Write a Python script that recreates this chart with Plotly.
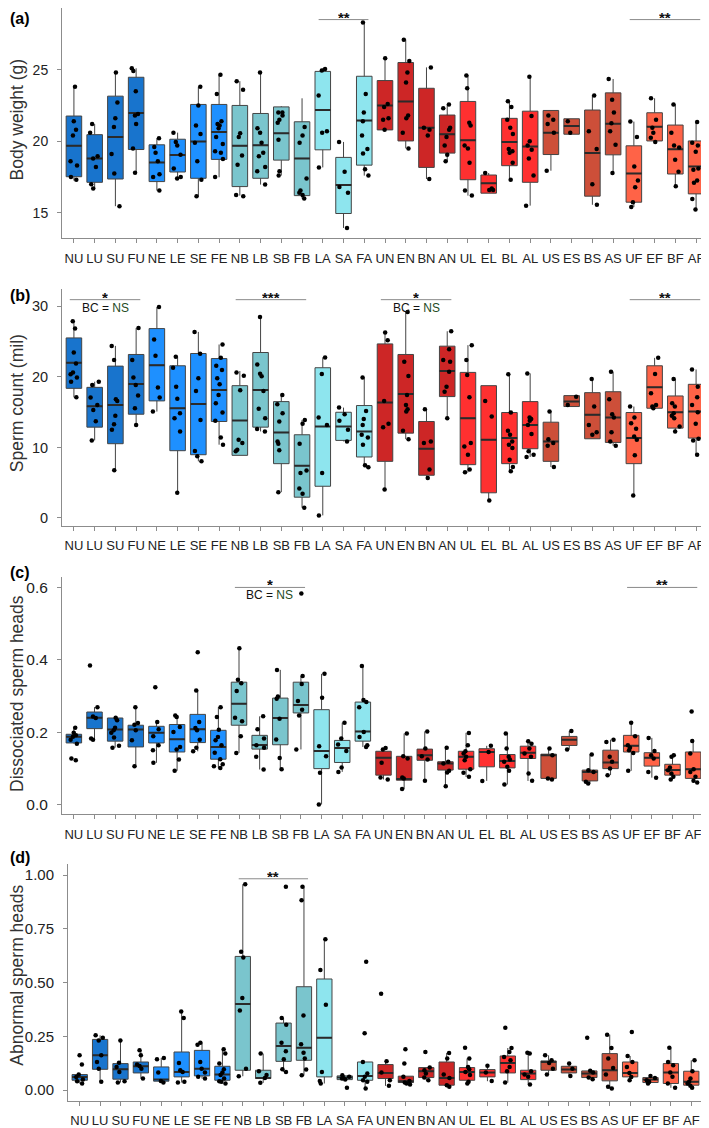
import plotly.graph_objects as go
from plotly.subplots import make_subplots

cats = ["NU", "LU", "SU", "FU", "NE", "LE", "SE", "FE", "NB", "LB", "SB", "FB",
        "LA", "SA", "FA", "UN", "EN", "BN", "AN", "UL", "EL", "BL", "AL",
        "US", "ES", "BS", "AS", "UF", "EF", "BF", "AF"]

# (a) body weight (g): whisker ends, quartiles, median
bw_hi = [23.8, 21.2, 24.8, 25.1, 20.2, 20.6, 23.8, 24.65, 24.2, 24.8, 22.45, 23.0, 25.1, 19.95, 28.3,
         25.8, 27.1, 25.16, 22.57, 24.63, 17.78, 22.8, 24.5, 22.15, 21.57, 23.2, 24.35, 21.37, 23.0, 22.57, 21.34]
bw_q3 = [21.76, 20.46, 23.15, 24.47, 19.75, 20.14, 22.57, 22.57, 22.5, 21.94, 22.4, 21.36, 24.88, 18.87, 24.54,
         24.24, 25.5, 23.7, 21.83, 22.78, 17.64, 21.6, 22.1, 22.15, 21.57, 22.18, 23.38, 19.68, 21.99, 21.13, 20.02]
bw_med = [19.68, 18.8, 20.3, 21.97, 18.52, 19.03, 19.98, 20.65, 19.68, 19.72, 20.55, 18.8, 22.18, 16.94, 21.44,
          22.5, 22.78, 20.95, 20.49, 20.07, 17.06, 19.95, 19.63, 20.6, 21.06, 19.17, 21.23, 17.75, 21.02, 19.44, 18.24]
bw_q1 = [17.52, 17.13, 17.36, 19.42, 17.18, 17.85, 17.41, 18.73, 16.83, 17.41, 18.68, 16.2, 19.4, 14.95, 18.33,
         20.79, 20.02, 18.17, 19.17, 17.31, 16.37, 18.29, 17.13, 19.07, 20.49, 16.16, 19.05, 15.74, 20.02, 17.71, 16.32]
bw_lo = [17.25, 16.67, 15.46, 17.82, 16.55, 17.43, 16.16, 17.48, 16.2, 16.97, 17.6, 16.0, 18.17, 13.94, 17.6,
         20.79, 19.5, 17.36, 18.59, 16.2, 16.37, 17.3, 15.5, 17.94, 20.49, 15.56, 17.78, 15.4, 19.95, 16.85, 15.23]
bw_pts = [
    [23.8, 21.4, 20.8, 20.4, 18.6, 18.3, 17.5, 17.3],
    [21.2, 20.6, 18.95, 18.8, 18.2, 17.0, 16.7],
    [24.8, 22.7, 21.6, 21.0, 19.1, 17.75, 15.45],
    [25.1, 24.9, 23.5, 21.9, 21.8, 21.2, 19.5, 17.8],
    [20.2, 19.6, 19.2, 18.6, 17.7, 17.5, 16.55],
    [20.6, 19.95, 19.7, 19.05, 18.1, 17.5, 17.4],
    [23.8, 22.5, 21.1, 20.5, 19.9, 18.6, 17.3, 16.15],
    [24.65, 23.3, 21.4, 21.2, 21.1, 20.9, 20.3, 19.8, 19.3, 19.2, 18.75, 17.5],
    [24.2, 23.6, 20.55, 20.3, 19.0, 18.35, 16.25, 16.15],
    [24.8, 20.9, 20.6, 19.9, 19.2, 18.95, 18.2, 17.9, 16.97],
    [22.0, 22.0, 21.8, 21.5, 21.3, 20.1, 17.9, 17.6],
    [21.0, 20.4, 19.9, 17.4, 16.55, 16.4, 16.25, 16.0],
    [25.05, 24.95, 23.2, 20.7, 20.6, 18.17],
    [19.95, 17.87, 16.8, 16.4, 13.94],
    [28.3, 23.3, 22.0, 21.4, 20.4, 19.45, 19.15, 18.05, 17.6],
    [25.8, 22.6, 22.4, 21.6, 21.5, 20.8],
    [27.1, 25.6, 24.8, 24.1, 21.8, 21.6, 20.6, 19.5],
    [25.16, 20.95, 20.8, 20.4, 17.36],
    [22.57, 22.3, 20.95, 20.8, 20.3, 19.7, 19.05, 18.6],
    [24.6, 23.7, 21.3, 21.1, 19.7, 19.5, 18.5, 16.55, 16.2],
    [17.78, 16.7, 16.6, 16.6],
    [22.8, 22.4, 21.5, 20.95, 20.5, 19.45, 19.3, 19.2, 18.5, 17.3],
    [24.5, 21.76, 20.0, 19.7, 19.4, 18.8, 17.6, 15.5],
    [21.8, 21.5, 21.2, 20.6, 17.94],
    [21.4, 20.6],
    [23.2, 20.7, 19.45, 16.99, 15.56],
    [24.35, 22.9, 22.0, 21.25, 20.7, 19.75, 17.78],
    [21.37, 20.3, 18.24, 17.25, 16.78, 15.74, 15.4],
    [23.0, 21.5, 20.95, 20.6, 20.25, 19.95],
    [22.57, 20.6, 19.7, 19.56, 18.7, 17.87, 16.85],
    [21.34, 19.9, 19.7, 19.26, 18.1, 18.0, 17.25, 17.1, 15.97, 15.23],
]

# (b) sperm count (mil)
sc_hi = [27.88, 19.32, 24.4, 26.94, 29.9, 22.85, 26.38, 24.6, 20.83, 28.49, 17.44, 13.91, 22.76, 15.65, 19.89,
         26.28, 29.2, 15.42, 26.47, 24.5, 18.76, 20.36, 20.5, 15.09, 17.35, 19.7, 20.73, 15.8, 22.7, 19.7, 21.06]
sc_q3 = [25.53, 18.52, 21.53, 23.18, 26.85, 21.58, 23.32, 22.6, 18.76, 23.46, 16.5, 11.8, 21.3, 14.99, 15.94,
         24.68, 23.18, 13.68, 24.36, 20.64, 18.76, 14.95, 16.5, 13.58, 17.35, 17.77, 17.9, 14.95, 21.58, 17.3, 18.95]
sc_med = [22.0, 15.84, 16.03, 18.99, 21.67, 15.56, 16.17, 18.15, 13.82, 18.15, 12.13, 7.42, 12.97, 12.97, 12.27,
          16.36, 17.58, 9.82, 20.83, 14.15, 11.09, 11.33, 13.2, 10.86, 16.5, 14.62, 14.24, 11.33, 18.52, 14.99, 15.09]
sc_q1 = [18.38, 12.88, 10.53, 14.71, 16.6, 9.54, 8.97, 13.68, 8.88, 12.88, 7.7, 2.95, 4.5, 11.0, 8.65,
         8.03, 12.03, 6.06, 17.21, 7.56, 3.57, 7.7, 9.82, 8.03, 15.8, 11.23, 10.71, 7.7, 15.56, 12.74, 11.33]
sc_lo = [17.11, 11.0, 6.76, 13.2, 15.09, 3.57, 8.03, 10.39, 8.88, 12.27, 3.66, 1.45, 0.37, 10.86, 7.19,
         4.04, 11.18, 5.68, 14.15, 6.48, 2.48, 6.62, 8.65, 7.23, 15.8, 11.23, 10.25, 3.19, 15.56, 12.27, 8.97]
sc_pts = [
    [27.9, 26.85, 23.46, 21.9, 20.64, 20.36, 19.9, 19.3, 17.1],
    [19.3, 18.85, 17.07, 16.03, 15.32, 13.7, 11.0],
    [24.4, 22.38, 16.83, 16.6, 14.5, 13.3, 12.5, 6.76],
    [26.94, 22.38, 19.9, 18.85, 17.35, 15.56, 13.2],
    [29.9, 25.3, 23.0, 18.5, 17.07, 15.1],
    [22.85, 21.3, 18.6, 16.9, 14.85, 14.15, 12.27, 3.57],
    [26.38, 23.3, 19.8, 18.0, 13.9, 9.5, 8.74, 8.03],
    [24.6, 22.7, 21.58, 20.97, 19.8, 18.95, 17.44, 16.27, 14.95, 13.77, 11.42, 10.39],
    [20.64, 20.17, 18.1, 11.1, 10.62, 9.68, 9.45],
    [28.5, 21.77, 20.45, 20.1, 18.0, 15.47, 14.15, 12.6, 12.27],
    [17.44, 16.12, 14.85, 13.68, 10.86, 10.53, 9.59, 3.66],
    [13.9, 13.35, 10.53, 6.72, 6.39, 4.18, 3.43, 1.45],
    [22.76, 20.4, 14.24, 13.2, 6.39, 0.37],
    [15.65, 14.7, 13.77, 12.5, 10.86],
    [19.9, 15.18, 14.05, 13.2, 11.8, 11.42, 10.39, 7.47, 7.19],
    [26.28, 25.2, 16.6, 13.35, 12.88, 4.04],
    [29.2, 22.15, 20.12, 17.44, 16.03, 15.42, 15.1, 12.36, 11.18],
    [15.42, 10.86, 10.62, 6.86, 5.68],
    [26.47, 23.93, 22.38, 22.15, 20.73, 18.6, 17.9, 14.15],
    [24.5, 22.38, 20.26, 17.11, 10.62, 10.15, 8.97, 6.86, 6.48],
    [16.6, 14.38, 2.48],
    [20.36, 14.95, 12.36, 11.8, 10.86, 10.39, 9.92, 8.27, 7.23, 6.62],
    [20.5, 14.24, 14.05, 13.77, 13.2, 11.89, 9.45, 8.97, 8.65],
    [15.1, 11.18, 10.62, 10.25, 7.23],
    [17.2, 16.03],
    [19.7, 15.8, 13.2, 12.17, 11.8],
    [20.73, 16.83, 14.7, 14.24, 12.17, 10.86, 10.25],
    [15.8, 14.24, 13.44, 12.64, 11.56, 11.09, 8.88, 3.19],
    [22.7, 20.4, 17.68, 16.03, 15.8, 15.56],
    [19.7, 16.27, 15.8, 14.85, 14.48, 14.15, 12.97, 12.27],
    [21.06, 18.6, 17.11, 16.03, 14.99, 13.35, 11.23, 11.0, 8.97],
]

# (c) dissociated sperm heads
ds_hi = [0.212, 0.269, 0.240, 0.269, 0.228, 0.246, 0.315, 0.269, 0.432, 0.2435, 0.372, 0.355, 0.361, 0.226, 0.383,
         0.156, 0.196, 0.202, 0.157, 0.198, 0.162, 0.196, 0.175, 0.154, 0.203, 0.138, 0.179, 0.226, 0.184, 0.138, 0.176]
ds_q3 = [0.194, 0.2555, 0.239, 0.219, 0.216, 0.221, 0.249, 0.205, 0.338, 0.191, 0.294, 0.338, 0.262, 0.177, 0.283,
         0.147, 0.133, 0.153, 0.118, 0.147, 0.154, 0.138, 0.161, 0.139, 0.188, 0.095, 0.150, 0.191, 0.143, 0.111, 0.145]
ds_med = [0.187, 0.240, 0.207, 0.207, 0.1985, 0.180, 0.208, 0.159, 0.2785, 0.164, 0.239, 0.275, 0.148, 0.156, 0.202,
          0.129, 0.070, 0.136, 0.113, 0.1315, 0.145, 0.120, 0.143, 0.136, 0.179, 0.090, 0.116, 0.162, 0.129, 0.095, 0.0975]
ds_q1 = [0.170, 0.2096, 0.175, 0.159, 0.170, 0.145, 0.171, 0.125, 0.219, 0.153, 0.165, 0.253, 0.099, 0.116, 0.175,
         0.081, 0.067, 0.122, 0.095, 0.0975, 0.104, 0.101, 0.127, 0.072, 0.163, 0.065, 0.099, 0.145, 0.106, 0.081, 0.072]
ds_lo = [0.168, 0.179, 0.157, 0.106, 0.115, 0.093, 0.147, 0.100, 0.1425, 0.0966, 0.0975, 0.152, 0.0, 0.090, 0.159,
         0.069, 0.042, 0.065, 0.051, 0.076, 0.065, 0.055, 0.065, 0.069, 0.152, 0.058, 0.081, 0.093, 0.074, 0.069, 0.061]
ds_pts = [
    [0.212, 0.198, 0.191, 0.187, 0.179, 0.168, 0.127, 0.122],
    [0.384, 0.269, 0.243, 0.239, 0.182, 0.179],
    [0.24, 0.2325, 0.212, 0.205, 0.198, 0.185, 0.162, 0.157],
    [0.269, 0.225, 0.2206, 0.205, 0.1774, 0.1057],
    [0.324, 0.228, 0.208, 0.1884, 0.1636, 0.15, 0.115],
    [0.246, 0.2417, 0.214, 0.2004, 0.159, 0.1517, 0.124, 0.093],
    [0.421, 0.315, 0.228, 0.2114, 0.205, 0.179, 0.157, 0.147],
    [0.269, 0.2417, 0.2068, 0.1866, 0.1774, 0.1636, 0.143, 0.125, 0.1112, 0.1057, 0.101],
    [0.432, 0.3446, 0.3354, 0.3134, 0.24, 0.23, 0.1884, 0.1425],
    [0.2435, 0.208, 0.182, 0.1636, 0.157, 0.1315, 0.0966],
    [0.372, 0.2987, 0.2922, 0.2371, 0.1792, 0.1287, 0.0975],
    [0.583, 0.355, 0.333, 0.286, 0.262, 0.246, 0.152],
    [0.361, 0.295, 0.161, 0.1333, 0.0874, 0.0],
    [0.226, 0.182, 0.166, 0.148, 0.102, 0.09],
    [0.383, 0.289, 0.283, 0.269, 0.2004, 0.1866, 0.1636, 0.159],
    [0.156, 0.1517, 0.115, 0.0745, 0.069],
    [0.196, 0.133, 0.127, 0.0745, 0.0718, 0.0424],
    [0.202, 0.1544, 0.133, 0.124, 0.0653],
    [0.157, 0.1177, 0.113, 0.093, 0.0883, 0.0506],
    [0.1976, 0.1636, 0.147, 0.1407, 0.1315, 0.122, 0.0975, 0.0874, 0.0763],
    [0.162, 0.145, 0.065],
    [0.196, 0.1544, 0.1315, 0.124, 0.1177, 0.104, 0.093, 0.0552],
    [0.1747, 0.168, 0.1544, 0.1407, 0.1315, 0.0855, 0.0653],
    [0.1544, 0.136, 0.0718, 0.069],
    [0.203, 0.1517],
    [0.138, 0.0947, 0.09, 0.0626, 0.058],
    [0.179, 0.1728, 0.1315, 0.1177, 0.0993, 0.081],
    [0.226, 0.1884, 0.1636, 0.157, 0.15, 0.1425, 0.093],
    [0.1838, 0.148, 0.136, 0.127, 0.09, 0.0736],
    [0.136, 0.1315, 0.102, 0.0947, 0.0855, 0.0763, 0.069],
    [0.257, 0.1756, 0.1407, 0.0975, 0.09, 0.0763, 0.0653, 0.0607],
]

# (d) abnormal sperm heads
ab_hi = [0.074, 0.255, 0.231, 0.185, 0.150, 0.366, 0.221, 0.190, 0.957, 0.170, 0.335, 0.946, 0.702, 0.069, 0.131,
         0.134, 0.065, 0.105, 0.173, 0.147, 0.113, 0.196, 0.174, 0.162, 0.1235, 0.0895, 0.258, 0.159, 0.066, 0.1975, 0.139]
ab_q3 = [0.0725, 0.236, 0.1235, 0.131, 0.108, 0.1775, 0.185, 0.111, 0.622, 0.0926, 0.312, 0.481, 0.517, 0.0664, 0.131,
         0.119, 0.065, 0.105, 0.131, 0.105, 0.0957, 0.159, 0.0926, 0.136, 0.111, 0.0895, 0.170, 0.131, 0.0586, 0.1235, 0.088]
ab_med = [0.0617, 0.162, 0.097, 0.111, 0.049, 0.085, 0.100, 0.0725, 0.401, 0.057, 0.205, 0.1975, 0.244, 0.0586, 0.066,
          0.080, 0.0417, 0.088, 0.057, 0.085, 0.082, 0.1265, 0.077, 0.131, 0.0957, 0.077, 0.0926, 0.080, 0.049, 0.082, 0.0386]
ab_q1 = [0.046, 0.097, 0.051, 0.080, 0.0417, 0.0617, 0.0664, 0.046, 0.0926, 0.054, 0.134, 0.139, 0.0617, 0.049, 0.046,
         0.054, 0.0355, 0.0586, 0.0231, 0.046, 0.0617, 0.080, 0.049, 0.0926, 0.080, 0.0586, 0.0432, 0.0617, 0.0355, 0.031, 0.0231]
ab_lo = [0.031, 0.0386, 0.0355, 0.054, 0.0355, 0.0355, 0.054, 0.031, 0.0648, 0.034, 0.085, 0.069, 0.031, 0.049, 0.0077,
         0.020, 0.026, 0.046, 0.0154, 0.031, 0.0417, 0.0355, 0.026, 0.0725, 0.0664, 0.051, 0.0077, 0.046, 0.031, 0.011, 0.011]
ab_pts = [
    [0.162, 0.119, 0.0725, 0.0617, 0.049, 0.0417, 0.031],
    [0.255, 0.244, 0.231, 0.162, 0.131, 0.1, 0.039],
    [0.231, 0.128, 0.108, 0.085, 0.0417, 0.0355],
    [0.185, 0.162, 0.119, 0.1126, 0.1, 0.054],
    [0.15, 0.1435, 0.082, 0.042, 0.0355],
    [0.366, 0.335, 0.1265, 0.0926, 0.085, 0.0386, 0.0355],
    [0.22, 0.211, 0.131, 0.1, 0.082, 0.062, 0.054],
    [0.19, 0.17, 0.1235, 0.097, 0.082, 0.07, 0.054, 0.0417, 0.039, 0.031],
    [0.957, 0.644, 0.617, 0.429, 0.37, 0.1, 0.065],
    [0.17, 0.088, 0.07, 0.057, 0.034],
    [0.946, 0.335, 0.304, 0.221, 0.181, 0.1435, 0.097, 0.085],
    [0.946, 0.883, 0.347, 0.213, 0.174, 0.147, 0.096, 0.069],
    [0.702, 0.559, 0.397, 0.085, 0.043, 0.031],
    [0.069, 0.062, 0.057, 0.054, 0.049, 0.011],
    [0.597, 0.265, 0.131, 0.077, 0.062, 0.046, 0.039, 0.0077],
    [0.448, 0.134, 0.082, 0.046, 0.02],
    [0.19, 0.1235, 0.062, 0.042, 0.0355, 0.031, 0.026],
    [0.1775, 0.105, 0.0926, 0.077, 0.0586, 0.046],
    [0.173, 0.147, 0.0725, 0.057, 0.023, 0.0154],
    [0.1975, 0.147, 0.108, 0.097, 0.085, 0.07, 0.039, 0.031],
    [0.113, 0.082, 0.042],
    [0.29, 0.196, 0.1775, 0.154, 0.139, 0.108, 0.088, 0.0355],
    [0.174, 0.17, 0.088, 0.0725, 0.062, 0.026],
    [0.162, 0.139, 0.1265, 0.1, 0.0725],
    [0.1235, 0.1, 0.066],
    [0.244, 0.09, 0.082, 0.0586, 0.051],
    [0.258, 0.196, 0.147, 0.1034, 0.0725, 0.0154, 0.0077],
    [0.27, 0.159, 0.131, 0.108, 0.08, 0.0617, 0.046],
    [0.066, 0.057, 0.046, 0.039, 0.031],
    [0.1975, 0.131, 0.1157, 0.082, 0.062, 0.031, 0.011],
    [0.139, 0.088, 0.054, 0.0386, 0.031, 0.02, 0.011],
]

# significance brackets: (row, first, last, stars, "BC = NS" note, height in data units)
brackets = [
    (1, "LA", "FA", "**", False, 28.5),
    (1, "UF", "AF", "**", False, 28.5),
    (2, "NU", "FU", "*", True, 30.95),
    (2, "NB", "FB", "***", False, 30.95),
    (2, "UN", "AN", "*", True, 30.95),
    (2, "UF", "AF", "**", False, 30.95),
    (3, "NB", "FB", "*", True, 0.600),
    (3, "UF", "AF", "**", False, 0.600),
    (4, "NB", "FB", "**", False, 0.983),
]

box_colors = (['#1874CD'] * 4 + ['#1E90FF'] * 4 + ['#7AC5CD'] * 4 + ['#8EE5EE'] * 3 +
              ['#CD2626'] * 4 + ['#FF3030'] * 4 + ['#CD4F39'] * 4 + ['#FF6347'] * 4)

FONT = 'Liberation Sans, Arial, sans-serif'
# the page body adds an 8px margin, so the figure is drawn 8px smaller
OFF = 8
W, H = 709 - OFF, 1128 - OFF


def fx(px):
    return (px - OFF) / W


def fy(py):
    return 1 - (py - OFF) / H


panels = [
    dict(label='(a)', title='Body weight (g)', data=(bw_hi, bw_q3, bw_med, bw_q1, bw_lo, bw_pts),
         yrange=[13.24, 29.31], tickvals=[15, 20, 25], fmt='d', tick_size=14,
         xpx=(62, 708), ypx=(8, 239), title_y=120, label_y=19),
    dict(label='(b)', title='Sperm count (mil)', data=(sc_hi, sc_q3, sc_med, sc_q1, sc_lo, sc_pts),
         yrange=[-1.09, 32.5], tickvals=[0, 10, 20, 30], fmt='d', tick_size=14.5,
         xpx=(62, 708), ypx=(290, 528), title_y=405, label_y=297),
    dict(label='(c)', title='Dissociated sperm heads', data=(ds_hi, ds_q3, ds_med, ds_q1, ds_lo, ds_pts),
         yrange=[-0.0267, 0.6276], tickvals=[0, 0.2, 0.4, 0.6], fmt='.1f', tick_size=15.5,
         xpx=(62, 705), ypx=(580, 817.7), title_y=697, label_y=575),
    dict(label='(d)', title='Abnormal sperm heads', data=(ab_hi, ab_q3, ab_med, ab_q1, ab_lo, ab_pts),
         yrange=[-0.0495, 1.051], tickvals=[0, 0.25, 0.5, 0.75, 1.0], fmt='.2f', tick_size=15,
         xpx=(68, 703), ypx=(868, 1105.7), title_y=980, label_y=861),
]

fig = make_subplots(rows=4, cols=1)

axis_style = dict(showline=True, linecolor='#8c8c8c', linewidth=1, ticks='outside',
                  ticklen=4, tickcolor='#8c8c8c', showgrid=False, zeroline=False)

for row, p in enumerate(panels, start=1):
    hi, q3, med, q1, lo, pts = p['data']
    for i, c in enumerate(cats):
        fig.add_trace(go.Box(
            x=[c], q1=[q1[i]], median=[med[i]], q3=[q3[i]],
            lowerfence=[lo[i]], upperfence=[hi[i]],
            fillcolor=box_colors[i],
            line=dict(color='#444444', width=1),
            whiskerwidth=0, width=0.75, boxpoints=False,
            hoverinfo='skip'), row=row, col=1)
    # thicker median bars drawn as flat boxes
    fig.add_trace(go.Box(
        x=cats, q1=med, median=med, q3=med, lowerfence=med, upperfence=med,
        fillcolor='rgba(0,0,0,0)', line=dict(color='#2a2a2a', width=2),
        whiskerwidth=0, width=0.75, boxpoints=False, hoverinfo='skip'), row=row, col=1)
    # jittered observations
    xs = [c for c, vals in zip(cats, pts) for _ in vals]
    ys = [v for vals in pts for v in vals]
    fig.add_trace(go.Box(
        x=xs, y=ys, boxpoints='all', jitter=0.6, pointpos=0, width=0.75,
        fillcolor='rgba(0,0,0,0)', line=dict(width=0, color='rgba(0,0,0,0)'),
        marker=dict(color='black', size=4.5), hoveron='points'), row=row, col=1)

    xd = [fx(p['xpx'][0]), fx(p['xpx'][1])]
    yd = [fy(p['ypx'][1]), min(1.0, fy(p['ypx'][0]))]
    fig.update_xaxes(axis_style, domain=xd, type='category', categoryorder='array',
                     categoryarray=cats, range=[-0.575, 30.575], ticklabelstandoff=4,
                     tickangle=0,
                     tickfont=dict(family=FONT, size=13, color='#222222'), row=row, col=1)
    fig.update_yaxes(axis_style, domain=yd, range=p['yrange'], tickvals=p['tickvals'],
                     tickformat=p['fmt'], ticklabelstandoff=6,
                     tickfont=dict(family=FONT, size=p['tick_size'], color='#222222'),
                     row=row, col=1)

    fig.add_annotation(text=p['title'], textangle=-90, xref='paper', yref='paper',
                       x=fx(17), y=fy(p['title_y']),
                       xanchor='center', yanchor='middle', showarrow=False,
                       font=dict(family=FONT, size=17.5, color='#333333'))
    fig.add_annotation(text='<b>' + p['label'] + '</b>', xref='paper', yref='paper',
                       x=0, y=fy(p['label_y']), xanchor='left', yanchor='middle',
                       showarrow=False, font=dict(family=FONT, size=16, color='black'))

for row, first, last, stars, bc, yv in brackets:
    xr = 'x' if row == 1 else 'x%d' % row
    yr = 'y' if row == 1 else 'y%d' % row
    i0, i1 = cats.index(first), cats.index(last)
    fig.add_shape(type='line', xref=xr, yref=yr, x0=i0 - 0.2, x1=i1 + 0.2, y0=yv, y1=yv,
                  line=dict(color='#8a8a8a', width=1))
    # short text box so the star glyph sits just above the bracket
    fig.add_annotation(text='<b>' + stars + '</b>', xref=xr, yref=yr, x=(i0 + i1) / 2, y=yv,
                       yanchor='bottom', yshift=1, height=9, valign='top', borderpad=0,
                       showarrow=False, font=dict(family=FONT, size=15, color='#111111'))
    if bc:
        fig.add_annotation(text="BC = <span style='color:#234a23'>NS</span>", xref=xr, yref=yr,
                           x=(i0 + i1) / 2, y=yv, yanchor='top', yshift=0, borderpad=0,
                           showarrow=False, font=dict(family=FONT, size=12, color='#111111'))

fig.update_layout(
    width=W, height=H,
    margin=dict(l=0, r=0, t=0, b=0),
    paper_bgcolor='white', plot_bgcolor='white',
    showlegend=False,
    boxmode='overlay',
)

fig.write_html("out.html")
